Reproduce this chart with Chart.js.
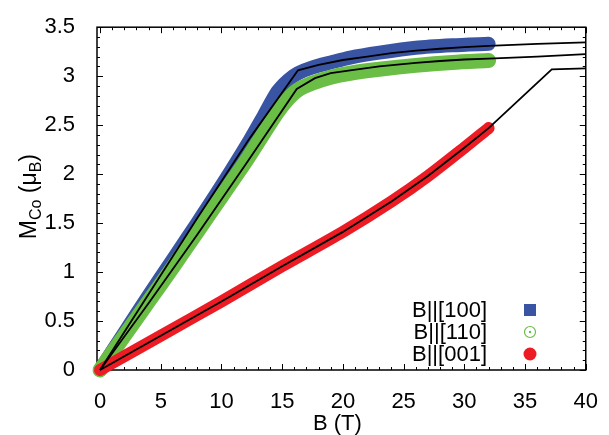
<!DOCTYPE html>
<html>
<head>
<meta charset="utf-8">
<script src="https://cdn.jsdelivr.net/npm/chart.js@4.4.1/dist/chart.umd.min.js"></script>
<style>
  html, body { margin: 0; padding: 0; background: #fff; }
  #wrap { width: 609px; height: 435px; }
</style>
</head>
<body>
<div id="wrap"><canvas id="c" width="609" height="435"></canvas></div>
<script>
const b100 = [0, 2, 4, 6, 8, 10, 12.3, 13.5, 14.6, 15.5, 16.3, 17.5, 19, 20.6, 23, 26, 29, 32];
const m100 = [0, 0.38, 0.76, 1.13, 1.5, 1.88, 2.34, 2.6, 2.84, 2.96, 3.03, 3.09, 3.14, 3.19, 3.24, 3.29, 3.315, 3.33];

const b110 = [0, 2, 4, 6, 8, 10, 12, 13.5, 14.6, 15.5, 16.3, 17.5, 19, 20.6, 23, 26, 29, 32];
const m110 = [0, 0.35, 0.7, 1.05, 1.41, 1.77, 2.13, 2.42, 2.63, 2.77, 2.86, 2.93, 2.99, 3.03, 3.07, 3.11, 3.14, 3.16];

const b001 = [0, 2, 5, 10, 15, 20, 24, 27, 30, 32];
const m001 = [0, 0.14, 0.35, 0.7, 1.06, 1.41, 1.72, 1.98, 2.27, 2.47];

// model curves (black)
const fitB100 = [0, 8, 12.35, 16.3, 18, 20, 22, 24, 26, 28, 30, 32, 36, 40];
const fitM100 = [0, 1.55, 2.37, 3.06, 3.115, 3.165, 3.2, 3.235, 3.26, 3.28, 3.297, 3.31, 3.33, 3.345];

const fitB110 = [0, 4.1, 8, 12, 13.2, 16.2, 17.7, 19, 20.6, 23, 26, 28, 30, 32, 36, 40];
const fitM110 = [0, 0.7, 1.38, 2.1, 2.32, 2.87, 2.98, 3.03, 3.06, 3.1, 3.135, 3.155, 3.17, 3.18, 3.2, 3.225];

const fitB001 = [0, 2, 5, 10, 15, 20, 24, 27, 30, 32, 37.2, 40];
const fitM001 = [0, 0.14, 0.35, 0.7, 1.06, 1.41, 1.72, 1.98, 2.27, 2.47, 3.07, 3.08];

const legendLabels = ["B||[100]", "B||[110]", "B||[001]"];

const BLUE = "rgb(58,84,164)";
const GREEN = "rgb(106,190,69)";
const RED = "rgb(237,28,36)";
const FONT = "'Liberation Sans', Arial, Helvetica, sans-serif";

function pts(xs, ys) {
  return xs.map((x, i) => ({ x: x, y: ys[i] }));
}

function band(label, xs, ys, color, width, order) {
  return {
    label: label,
    data: pts(xs, ys),
    showLine: true,
    borderColor: color,
    backgroundColor: color,
    borderWidth: width,
    borderCapStyle: "round",
    borderJoinStyle: "round",
    pointRadius: 0,
    tension: 0.25,
    order: order,
    clip: false,
  };
}

function fit(xs, ys) {
  return {
    label: "",
    data: pts(xs, ys),
    showLine: true,
    borderColor: "#000",
    borderWidth: 1.8,
    pointRadius: 0,
    tension: 0,
    order: 0,
    clip: false,
  };
}

// inward ticks on all four sides + frame, axis titles, legend
const frame = {
  id: "frame",
  beforeDatasetsDraw(chart) {
    const { ctx, chartArea: a, scales } = chart;
    const x = scales.x, y = scales.y;
    ctx.save();
    ctx.strokeStyle = "#000";
    ctx.lineWidth = 1;
    ctx.beginPath();
    for (let v = 0; v <= 40; v++) {
      const p = Math.round(x.getPixelForValue(v)) + 0.5;
      const len = v % 5 === 0 ? 6 : 3;
      ctx.moveTo(p, a.bottom); ctx.lineTo(p, a.bottom - len);
      ctx.moveTo(p, a.top); ctx.lineTo(p, a.top + len);
    }
    for (let i = 0; i <= 35; i++) {
      const v = i / 10;
      const p = Math.round(y.getPixelForValue(v)) + 0.5;
      const len = i % 5 === 0 ? 6 : 3;
      ctx.moveTo(a.left, p); ctx.lineTo(a.left + len, p);
      ctx.moveTo(a.right, p); ctx.lineTo(a.right - len, p);
    }
    ctx.stroke();
    ctx.lineWidth = 1.5;
    ctx.strokeRect(a.left, a.top, a.right - a.left, a.bottom - a.top);
    ctx.restore();
  },
  afterDraw(chart) {
    const { ctx, chartArea: a } = chart;
    ctx.save();
    ctx.fillStyle = "#000";
    ctx.font = "22px " + FONT;
    ctx.textAlign = "center";
    ctx.textBaseline = "middle";
    ctx.fillText("B (T)", (a.left + a.right) / 2 - 4, 424);

    // y title with subscripts
    const parts = [["M", 0], ["Co", 1], [" (\u03bc", 0], ["B", 1], [")", 0]];
    let total = 0;
    parts.forEach(p => {
      ctx.font = (p[1] ? "16px " : "23px ") + FONT;
      total += ctx.measureText(p[0]).width;
    });
    ctx.translate(31, (a.top + a.bottom) / 2 - 2);
    ctx.rotate(-Math.PI / 2);
    ctx.textAlign = "left";
    ctx.textBaseline = "alphabetic";
    let cx = -total / 2;
    parts.forEach(p => {
      ctx.font = (p[1] ? "16px " : "23px ") + FONT;
      ctx.fillText(p[0], cx, p[1] ? 10 : 5);
      cx += ctx.measureText(p[0]).width;
    });
    ctx.restore();

    // legend: text then marker on the right
    ctx.save();
    ctx.font = "22px " + FONT;
    ctx.textAlign = "right";
    ctx.textBaseline = "middle";
    ctx.fillStyle = "#000";
    const rows = [310, 332, 354];
    legendLabels.forEach((t, i) => ctx.fillText(t, 487, rows[i] + 1));
    ctx.fillStyle = BLUE;
    ctx.fillRect(524, rows[0] - 6, 12, 12);
    ctx.strokeStyle = GREEN;
    ctx.lineWidth = 1.2;
    ctx.beginPath(); ctx.arc(530, rows[1], 5.5, 0, Math.PI * 2); ctx.stroke();
    ctx.fillStyle = GREEN;
    ctx.beginPath(); ctx.arc(530, rows[1], 1.2, 0, Math.PI * 2); ctx.fill();
    ctx.fillStyle = RED;
    ctx.beginPath(); ctx.arc(530, rows[2], 6.5, 0, Math.PI * 2); ctx.fill();
    ctx.restore();
  },
};

new Chart(document.getElementById("c"), {
  type: "scatter",
  data: {
    datasets: [
      fit(fitB100, fitM100),
      fit(fitB110, fitM110),
      fit(fitB001, fitM001),
      band(legendLabels[2], b001, m001, RED, 12, 1),
      band(legendLabels[1], b110, m110, GREEN, 15, 2),
      band(legendLabels[0], b100, m100, BLUE, 14, 3),
    ],
  },
  options: {
    responsive: false,
    animation: false,
    layout: { padding: { left: 0, right: 23, top: 23, bottom: 0 } },
    plugins: { legend: { display: false }, tooltip: { enabled: false } },
    scales: {
      x: {
        type: "linear",
        min: -0.25,
        max: 40,
        grid: { display: false },
        border: { display: false },
        afterFit(s) { s.height = 65; },
        ticks: {
          stepSize: 5,
          includeBounds: false,
          autoSkip: false,
          maxRotation: 0,
          padding: 11,
          color: "#000",
          font: { family: FONT, size: 22 },
          callback: v => String(v),
        },
      },
      y: {
        type: "linear",
        min: 0,
        max: 3.5,
        grid: { display: false },
        border: { display: false },
        afterFit(s) { s.width = 97; },
        ticks: {
          stepSize: 0.5,
          padding: 14,
          color: "#000",
          font: { family: FONT, size: 22 },
          callback: v => String(v),
        },
      },
    },
  },
  plugins: [frame],
});
</script>
</body>
</html>
